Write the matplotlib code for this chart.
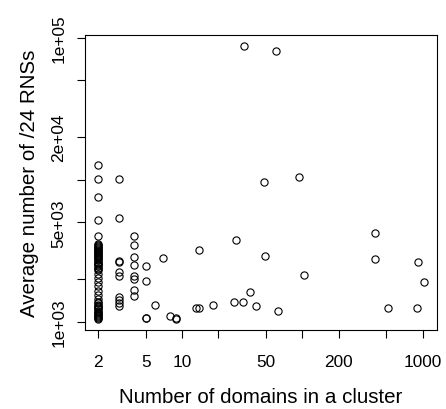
import matplotlib
matplotlib.use("Agg")
import matplotlib.pyplot as plt
from matplotlib.ticker import FixedLocator, NullLocator

plt.rcParams['font.family'] = ['Liberation Sans', 'DejaVu Sans']

# cluster size (number of domains) and average number of /24 RNSs
avg_rns_size2 = [12760, 10100, 7500, 5200, 4000,
                 3500, 3450, 3400, 3350, 3300, 3250, 3200, 3150, 3100, 3050,
                 3000, 2950, 2900, 2850, 2800, 2750, 2700, 2650, 2600, 2550,
                 2500, 2450, 2400, 2350, 2300,
                 2166, 2020, 1895, 1775, 1654, 1550, 1445,
                 1370, 1345, 1320, 1295, 1270, 1245, 1220, 1195, 1170, 1150,
                 1130, 1110, 1090, 1075, 1060, 1045]
avg_rns_size3 = [10100, 5400, 2690, 2620, 2228, 2110, 1500, 1430, 1360, 1290]
avg_rns_size4 = [4036, 3484, 2871, 2520, 2110, 2000, 1680, 1525]
avg_rns_size5 = [2455, 1936, 1057, 1062]
larger_domains = [6, 7, 8, 9, 9, 13, 14, 14, 18, 27, 28, 32, 33, 37, 41, 48,
                  49, 61, 63, 94, 103, 400, 400, 513, 898, 910, 1026]
avg_rns_larger = [1318, 2793, 1102, 1057, 1040, 1243, 1243, 3200, 1318, 1383,
                  3776, 1370, 86900, 1620, 1283, 9630, 2890, 80900, 1195,
                  10400, 2143, 4200, 2768, 1243, 1250, 2620, 1893]

domains = ([2] * len(avg_rns_size2) + [3] * len(avg_rns_size3) +
           [4] * len(avg_rns_size4) + [5] * len(avg_rns_size5) +
           larger_domains)
avg_rns = (avg_rns_size2 + avg_rns_size3 + avg_rns_size4 + avg_rns_size5 +
           avg_rns_larger)

x_ticks = [2, 5, 10, 20, 50, 100, 200, 500, 1000]
x_labels = ['2', '5', '10', '', '50', '', '200', '', '1000']
y_ticks = [1e3, 2e3, 5e3, 1e4, 2e4, 5e4, 1e5]
y_labels = ['1e+03', '', '5e+03', '', '2e+04', '', '1e+05']

fig = plt.figure(figsize=(4.46, 4.10), dpi=100)
ax = fig.add_axes([85 / 446, 79 / 410, 352 / 446, 295 / 410])

ax.plot(domains, avg_rns, linestyle='none', marker='o', markersize=5.2,
        markerfacecolor='none', markeredgecolor='black', markeredgewidth=0.8)

ax.set_xscale('log')
ax.set_yscale('log')
ax.set_xlim(1.569, 1315)
ax.set_ylim(874, 104500)

ax.xaxis.set_major_locator(FixedLocator(x_ticks))
ax.xaxis.set_minor_locator(NullLocator())
ax.set_xticklabels(x_labels)
ax.yaxis.set_major_locator(FixedLocator(y_ticks))
ax.yaxis.set_minor_locator(NullLocator())
ax.set_yticklabels(y_labels, rotation=90, va='center')

ax.tick_params(axis='both', direction='out', length=6, width=0.8,
               labelsize=12.4, color='black')
ax.tick_params(axis='x', pad=11)
ax.tick_params(axis='y', pad=7.3)
for s in ax.spines.values():
    s.set_linewidth(0.8)

ax.set_xlabel('Number of domains in a cluster', fontsize=14.8, labelpad=13)
ax.set_ylabel('Average number of /24 RNSs', fontsize=14.8, labelpad=8.8)

fig.savefig('out.png', dpi=100)
